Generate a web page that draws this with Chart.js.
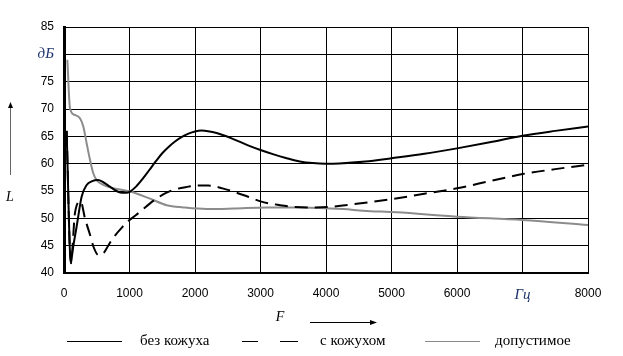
<!DOCTYPE html>
<html><head><meta charset="utf-8">
<script src="https://cdn.jsdelivr.net/npm/chart.js@4.4.1/dist/chart.umd.min.js"></script>
<style>html,body{margin:0;padding:0;background:#fff}canvas{display:block}</style>
</head><body>
<canvas id="c" width="623" height="356"></canvas>
<script>
// Frequency, Hz / level, dB
const fNoCover = [40, 105, 130, 193, 270, 346, 430, 520, 600, 700, 800, 880, 950, 1008, 1100, 1200, 1300, 1400, 1500, 1600, 1700, 1800, 1900, 2000, 2100, 2200, 2331, 2585, 2800, 3000, 3200, 3400, 3600, 3800, 4000, 4200, 4600, 5000, 5500, 6000, 6500, 7000, 7500, 8000];
const lNoCover = [66, 41.8, 44, 48.5, 54, 56.1, 56.8, 57, 56.6, 55.8, 55, 54.7, 54.7, 54.9, 55.8, 57.2, 58.8, 60.4, 61.9, 63.1, 64.1, 64.9, 65.5, 65.9, 66.05, 65.95, 65.6, 64.5, 63.4, 62.5, 61.7, 61, 60.4, 60.1, 60, 60.05, 60.4, 61, 61.8, 62.8, 63.9, 65.1, 66, 66.8];
const fCover = [40, 105, 168, 255, 320, 397, 450, 524, 600, 675, 750, 890, 982, 1100, 1200, 1300, 1400, 1550, 1700, 1900, 2000, 2200, 2500, 2800, 3000, 3300, 3500, 3800, 4061, 4500, 5000, 5500, 6000, 6500, 7000, 7500, 8000];
const lCover = [66, 41.8, 51, 53.1, 50, 47, 44.8, 43.3, 43.6, 45, 46.4, 48.4, 49.5, 50.6, 51.6, 52.6, 53.5, 54.6, 55.3, 55.8, 56, 56, 55.2, 54, 53.1, 52.4, 52.1, 52, 52.1, 52.7, 53.5, 54.5, 55.5, 56.8, 58.1, 59, 59.8];
const fAllowed = [51, 92, 168, 244, 295, 346, 397, 448, 499, 600, 753, 1008, 1313, 1568, 1822, 2178, 2585, 3094, 3603, 4264, 4570, 5080, 6000, 7000, 8000];
const lAllowed = [79, 70.1, 68.9, 68.3, 66.8, 63.7, 60.7, 58.2, 57, 56.1, 55.5, 54.9, 53.6, 52.4, 52, 51.7, 51.8, 52, 52, 51.7, 51.4, 51.1, 50.3, 49.7, 48.8];
const seriesNames = ['без кожуха', 'с кожухом', 'допустимое'];
const yUnit = 'дБ', xUnit = 'Гц', yTitle = 'L', xTitle = 'F';
const yUnitTick = 80, xUnitTick = 7000;

const pts = (xs, ys) => xs.map((x, i) => ({x, y: ys[i]}));
const tickFont = {family: 'Liberation Sans, Arial, sans-serif', size: 12};
const unitFont = {family: 'Liberation Serif, Times New Roman, serif', size: 15, style: 'italic'};

const extras = {
  id: 'extras',
  afterDraw(chart) {
    const ctx = chart.ctx;
    ctx.save();
    ctx.fillStyle = '#000';
    ctx.font = 'italic 14px "Liberation Serif", serif';
    ctx.textAlign = 'center'; ctx.textBaseline = 'middle';
    ctx.fillText(yTitle, 10, 197);
    ctx.fillText(xTitle, 280, 317);
    // up arrow
    ctx.strokeStyle = '#666'; ctx.lineWidth = 1;
    ctx.beginPath(); ctx.moveTo(10.5, 175); ctx.lineTo(10.5, 106); ctx.stroke();
    ctx.fillStyle = '#000';
    ctx.beginPath(); ctx.moveTo(10.5, 102); ctx.lineTo(8, 108); ctx.lineTo(13, 108); ctx.closePath(); ctx.fill();
    // right arrow
    ctx.strokeStyle = '#000';
    ctx.beginPath(); ctx.moveTo(310, 322.5); ctx.lineTo(372, 322.5); ctx.stroke();
    ctx.beginPath(); ctx.moveTo(377, 322.5); ctx.lineTo(370, 320); ctx.lineTo(370, 325); ctx.closePath(); ctx.fill();
    // legend
    const ly = 341.5;
    ctx.lineWidth = 1;
    ctx.strokeStyle = '#000';
    ctx.beginPath(); ctx.moveTo(67, ly); ctx.lineTo(122, ly); ctx.stroke();
    ctx.beginPath(); ctx.moveTo(242, ly); ctx.lineTo(258, ly); ctx.moveTo(280, ly); ctx.lineTo(298, ly); ctx.stroke();
    ctx.strokeStyle = '#8a8a8a';
    ctx.beginPath(); ctx.moveTo(425, ly); ctx.lineTo(480, ly); ctx.stroke();
    ctx.fillStyle = '#000';
    ctx.font = '15px "Liberation Serif", serif';
    ctx.textAlign = 'left';
    ctx.fillText(seriesNames[0], 140, ly);
    ctx.fillText(seriesNames[1], 320, ly);
    ctx.fillText(seriesNames[2], 495, ly);
    ctx.restore();
  }
};

new Chart(document.getElementById('c'), {
  type: 'line',
  data: {
    datasets: [
      {label: seriesNames[0], data: pts(fNoCover, lNoCover), borderColor: '#000', borderWidth: 2, pointRadius: 0, cubicInterpolationMode: 'monotone', fill: false},
      {label: seriesNames[1], data: pts(fCover, lCover), borderColor: '#000', borderWidth: 2, borderDash: [13, 7], pointRadius: 0, cubicInterpolationMode: 'monotone', fill: false},
      {label: seriesNames[2], data: pts(fAllowed, lAllowed), borderColor: '#8c8c8c', borderWidth: 2, pointRadius: 0, cubicInterpolationMode: 'monotone', fill: false}
    ]
  },
  options: {
    responsive: false, animation: false,
    layout: {padding: {top: 27, right: 35, left: 0, bottom: 0}},
    plugins: {legend: {display: false}, tooltip: {enabled: false}},
    scales: {
      x: {
        type: 'linear', min: 0, max: 8000,
        afterFit(s) { s.height = 83; },
        grid: {color: '#000', lineWidth: 1, drawTicks: false},
        border: {color: '#000', width: 2},
        ticks: {
          stepSize: 1000, padding: 13, maxRotation: 0,
          callback: v => v === xUnitTick ? xUnit : String(v),
          font: c => (c.tick && c.tick.value === xUnitTick) ? unitFont : tickFont,
          color: c => (c.tick && c.tick.value === xUnitTick) ? '#1f3470' : '#000'
        }
      },
      y: {
        min: 40, max: 85,
        afterFit(s) { s.width = 64; },
        grid: {color: '#000', lineWidth: 1, drawTicks: false},
        border: {color: '#000', width: 3},
        ticks: {
          stepSize: 5, padding: 10,
          callback: v => v === yUnitTick ? yUnit : String(v),
          font: c => (c.tick && c.tick.value === yUnitTick) ? unitFont : tickFont,
          color: c => (c.tick && c.tick.value === yUnitTick) ? '#1f3470' : '#000'
        }
      }
    }
  },
  plugins: [extras]
});
</script>
</body></html>
